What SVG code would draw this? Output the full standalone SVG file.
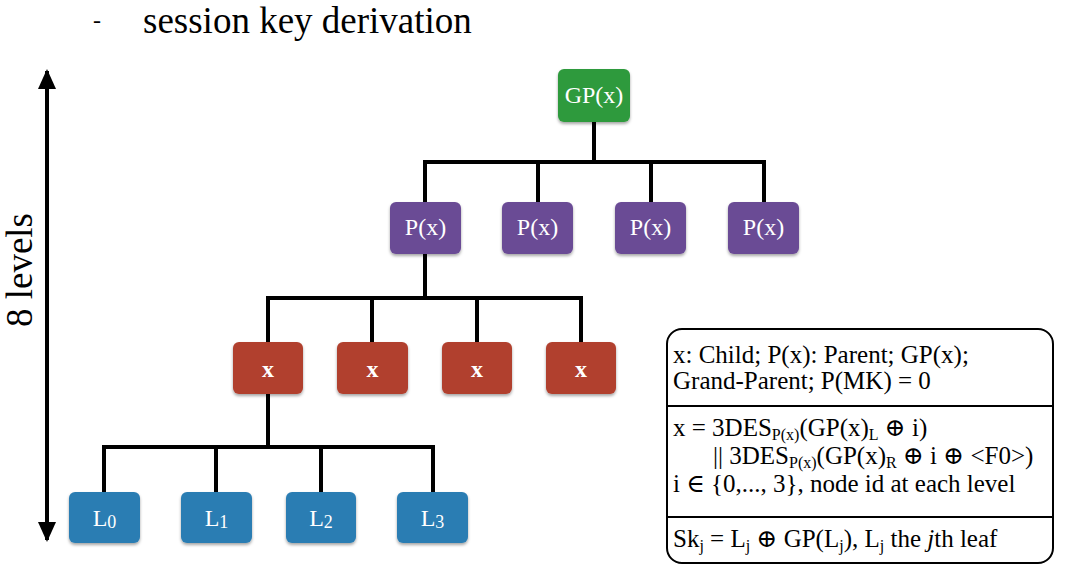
<svg xmlns="http://www.w3.org/2000/svg" width="1066" height="571" viewBox="0 0 1066 571">
<defs>
<filter id="sh" x="-20%" y="-20%" width="140%" height="150%">
<feDropShadow dx="0" dy="2" stdDeviation="1.5" flood-color="#000" flood-opacity="0.35"/>
</filter>
<marker id="ah" viewBox="0 0 20 18" refX="18" refY="9" markerWidth="20" markerHeight="18" markerUnits="userSpaceOnUse" orient="auto-start-reverse">
<path d="M0,0 L20,9 L0,18 Z" fill="#000"/>
</marker>
<style>
text{font-family:"Liberation Serif","DejaVu Serif",serif;}
.nt{font-size:24px;fill:#fff;text-anchor:middle;}
.gp{fill:#2f9a3d;filter:url(#sh);}
.p{fill:#6b4b95;filter:url(#sh);}
.x{fill:#b1412f;filter:url(#sh);}
.l{fill:#2c7db3;filter:url(#sh);}
.ln{stroke:#000;stroke-width:4;fill:none;}
.lg{font-size:25px;fill:#000;}
.sub{font-size:16px;}
</style>
</defs>
<rect width="1066" height="571" fill="#fff"/>
<text font-family="Liberation Serif, serif" x="93" y="28" font-size="24">-</text>
<text font-family="Liberation Serif, serif" x="143" y="33" font-size="37">session key derivation</text>
<g id="levels">
<line x1="47" y1="71" x2="47" y2="540" stroke="#000" stroke-width="4" marker-start="url(#ah)" marker-end="url(#ah)"/>
<text font-family="Liberation Serif, serif" font-size="37" text-anchor="middle" transform="translate(32,270) rotate(-90)">8 levels</text>
</g>
<g id="connectors">
<path class="ln" d="M594,122 V162 M425,202 V162 H764 V202 M538,162 V202 M651,162 V202"/>
<path class="ln" d="M425,254 V298 M268,342 V298 H581 V342 M372,298 V342 M477,298 V342"/>
<path class="ln" d="M268,394 V447 M104,492 V447 H433 V492 M216,447 V492 M321,447 V492"/>
</g>
<g id="gp"><rect class="gp" x="558" y="69" width="72" height="53" rx="6"/><text class="nt" x="594" y="103">GP(x)</text></g>
<g id="p1"><rect class="p" x="390" y="202" width="71" height="52" rx="6"/><text class="nt" x="425.5" y="235">P(x)</text></g>
<g id="p2"><rect class="p" x="502" y="202" width="71" height="52" rx="6"/><text class="nt" x="537.5" y="235">P(x)</text></g>
<g id="p3"><rect class="p" x="615" y="202" width="71" height="52" rx="6"/><text class="nt" x="650.5" y="235">P(x)</text></g>
<g id="p4"><rect class="p" x="728" y="202" width="71" height="52" rx="6"/><text class="nt" x="763.5" y="235">P(x)</text></g>
<g id="x1"><rect class="x" x="233" y="342" width="70" height="52" rx="6"/><text class="nt" x="268" y="377" font-weight="bold" font-size="22">x</text></g>
<g id="x2"><rect class="x" x="337" y="342" width="71" height="52" rx="6"/><text class="nt" x="372.5" y="377" font-weight="bold" font-size="22">x</text></g>
<g id="x3"><rect class="x" x="442" y="342" width="70" height="52" rx="6"/><text class="nt" x="477" y="377" font-weight="bold" font-size="22">x</text></g>
<g id="x4"><rect class="x" x="546" y="342" width="70" height="52" rx="6"/><text class="nt" x="581" y="377" font-weight="bold" font-size="22">x</text></g>
<g id="l0"><rect class="l" x="69" y="492" width="71" height="51" rx="6"/><text class="nt" x="104.5" y="526" font-size="26">L<tspan font-size="18" dy="2">0</tspan></text></g>
<g id="l1"><rect class="l" x="181" y="492" width="71" height="51" rx="6"/><text class="nt" x="216.5" y="526" font-size="26">L<tspan font-size="18" dy="2">1</tspan></text></g>
<g id="l2"><rect class="l" x="286" y="492" width="70" height="51" rx="6"/><text class="nt" x="321" y="526" font-size="26">L<tspan font-size="18" dy="2">2</tspan></text></g>
<g id="l3"><rect class="l" x="397" y="492" width="71" height="51" rx="6"/><text class="nt" x="432.5" y="526" font-size="26">L<tspan font-size="18" dy="2">3</tspan></text></g>
<g id="legend">
<rect x="667" y="329" width="386" height="234" rx="15" fill="#fff" stroke="#000" stroke-width="2"/>
<line x1="667" y1="406" x2="1053" y2="406" stroke="#000" stroke-width="2"/>
<line x1="667" y1="517" x2="1053" y2="517" stroke="#000" stroke-width="2"/>
<text class="lg" font-family="Liberation Serif, DejaVu Serif, serif" x="673" y="363">x: Child; P(x): Parent; GP(x);</text>
<text class="lg" font-family="Liberation Serif, DejaVu Serif, serif" x="673" y="389">Grand-Parent; P(MK) = 0</text>
<text class="lg" font-family="Liberation Serif, DejaVu Serif, serif" x="673" y="436">x = 3DES<tspan class="sub" dy="3.5">P(x)</tspan><tspan dy="-3.5">(GP(x)</tspan><tspan class="sub" dy="3.5">L</tspan><tspan dy="-3.5"> ⊕ i)</tspan></text>
<text class="lg" font-family="Liberation Serif, DejaVu Serif, serif" x="713" y="464">|| 3DES<tspan class="sub" dy="3.5">P(x)</tspan><tspan dy="-3.5">(GP(x)</tspan><tspan class="sub" dy="3.5">R</tspan><tspan dy="-3.5"> ⊕ i ⊕ &lt;F0&gt;)</tspan></text>
<text class="lg" font-family="Liberation Serif, DejaVu Serif, serif" x="673" y="492">i ∈ {0,..., 3}, node id at each level</text>
<text class="lg" font-family="Liberation Serif, DejaVu Serif, serif" x="673" y="547">Sk<tspan class="sub" dy="4">j</tspan><tspan dy="-4"> = L</tspan><tspan class="sub" dy="4">j</tspan><tspan dy="-4"> ⊕ GP(L</tspan><tspan class="sub" dy="4">j</tspan><tspan dy="-4">), L</tspan><tspan class="sub" dy="4">j</tspan><tspan dy="-4"> the </tspan><tspan font-style="italic">j</tspan>th leaf</text>
</g>
</svg>
